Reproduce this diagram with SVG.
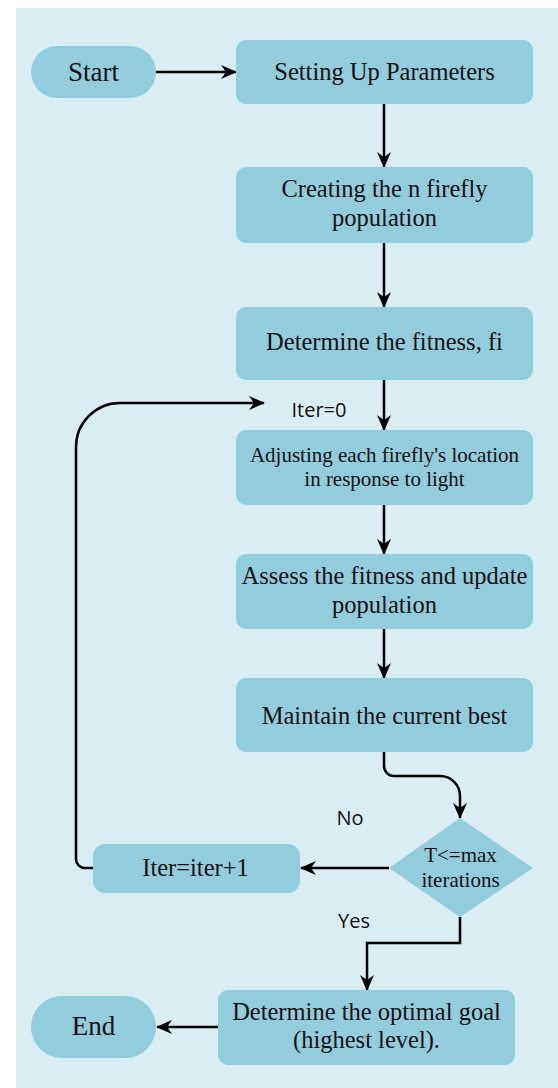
<svg xmlns="http://www.w3.org/2000/svg" width="558" height="1088" viewBox="0 0 558 1088">
<defs>
<style>
.box{fill:#92cddc;}
.t{font-family:"Liberation Serif","Times New Roman",serif;font-size:24.5px;fill:#111;text-anchor:middle;}
.s{font-family:"Open Sans","Liberation Sans",sans-serif;font-size:20px;fill:#111;text-anchor:middle;}
.c{fill:none;stroke:#000;stroke-width:2.5;marker-end:url(#ah);}
</style>
<marker id="ah" viewBox="0 0 16 14" refX="15" refY="7" markerWidth="16" markerHeight="14" markerUnits="userSpaceOnUse" orient="auto">
<path d="M0,0 L16,7 L0,14 L5,7 z" fill="#000"/>
</marker>
</defs>
<rect x="16" y="8" width="542" height="1080" fill="#daedf3"/>
<g id="connectors">
<path class="c" d="M156,72 H236"/>
<path class="c" d="M384,104 V167"/>
<path class="c" d="M384,243 V307"/>
<path class="c" d="M384,380 V430"/>
<path class="c" d="M384,505 V554"/>
<path class="c" d="M384,629 V678"/>
<path class="c" d="M384,752 V766 A10,10 0 0 0 394,776 H440 A20,20 0 0 1 460,796 V818"/>
<path class="c" d="M389,868 H301"/>
<path class="c" d="M93,868 H85 A9,9 0 0 1 76,859 V447 A44,44 0 0 1 120,403 H264"/>
<path class="c" d="M460,917 V943 H367 V990"/>
<path class="c" d="M218,1027 H157"/>
</g>
<g id="start"><rect class="box" x="31" y="46" width="125" height="52" rx="26"/><text class="t" x="93.5" y="81" style="font-size:27px">Start</text></g>
<g id="setup"><rect class="box" x="236" y="40" width="297" height="64" rx="10"/><text class="t" x="384.5" y="80">Setting Up Parameters</text></g>
<g id="create"><rect class="box" x="236" y="167" width="297" height="76" rx="10"/><text class="t" x="384.5" y="197">Creating the n firefly</text><text class="t" x="384.5" y="226">population</text></g>
<g id="fitness"><rect class="box" x="236" y="307" width="297" height="73" rx="10"/><text class="t" x="384.5" y="350">Determine the fitness, fi</text></g>
<g id="iter0"><text class="s" x="319" y="417">Iter=0</text></g>
<g id="adjust"><rect class="box" x="236" y="430" width="297" height="75" rx="10"/><text class="t" x="384.5" y="462" style="font-size:21px">Adjusting each firefly's location</text><text class="t" x="384.5" y="486" style="font-size:21px">in response to light</text></g>
<g id="assess"><rect class="box" x="236" y="554" width="297" height="75" rx="10"/><text class="t" x="384.5" y="584">Assess the fitness and update</text><text class="t" x="384.5" y="613">population</text></g>
<g id="maintain"><rect class="box" x="236" y="678" width="297" height="74" rx="10"/><text class="t" x="384.5" y="724">Maintain the current best</text></g>
<g id="decision"><polygon class="box" points="460,818 533,868 460,917 389,868"/><text class="t" x="460.5" y="862" style="font-size:21px">T&lt;=max</text><text class="t" x="460.5" y="887" style="font-size:21px">iterations</text></g>
<g id="no"><text class="s" x="350" y="825">No</text></g>
<g id="yes"><text class="s" x="354" y="928">Yes</text></g>
<g id="iterinc"><rect class="box" x="93" y="844" width="207" height="49" rx="12"/><text class="t" x="195.5" y="876">Iter=iter+1</text></g>
<g id="optimal"><rect class="box" x="218" y="990" width="297" height="75" rx="10"/><text class="t" x="366.5" y="1020">Determine the optimal goal</text><text class="t" x="366.5" y="1048">(highest level).</text></g>
<g id="end"><rect class="box" x="31" y="996" width="125" height="62" rx="31"/><text class="t" x="93.5" y="1035" style="font-size:27px">End</text></g>
</svg>
